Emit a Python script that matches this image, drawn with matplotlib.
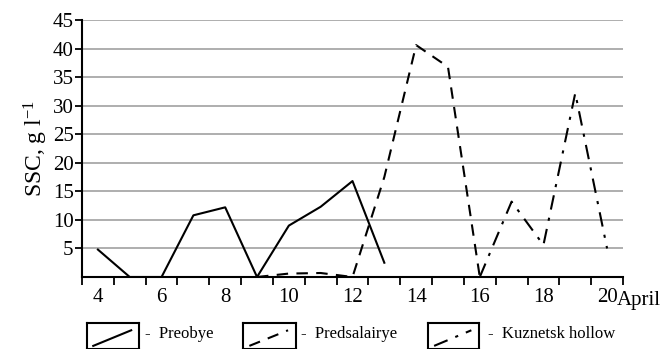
import numpy as np
import matplotlib.pyplot as plt

plt.rcParams['font.family'] = ['Liberation Serif', 'DejaVu Serif']
plt.rcParams['mathtext.fontset'] = 'custom'
plt.rcParams['mathtext.rm'] = 'Liberation Serif'
plt.rcParams['mathtext.it'] = 'Liberation Serif:italic'

# data (days of April, SSC g/l)
days_preobye = [4, 5, 6, 7, 8, 9, 10, 11, 12, 13]
ssc_preobye = [4.8, 0, 0, 10.8, 12.2, 0, 9.0, 12.3, 16.8, 2.5]

days_predsal = [9, 10, 11, 12, 13, 14, 15, 16]
ssc_predsal = [0, 0.6, 0.7, 0, 17.5, 40.6, 36.8, 0]

days_kuzn = [16, 17, 18, 19, 20]
ssc_kuzn = [0, 13.2, 5.6, 32.2, 5.0]

names = ['Preobye', 'Predsalairye', 'Kuznetsk hollow']
yticks = [5, 10, 15, 20, 25, 30, 35, 40, 45]
xlabels = [4, 6, 8, 10, 12, 14, 16, 18, 20]

W, H = 662, 349
fig = plt.figure(figsize=(W / 100, H / 100), dpi=100)
ax = fig.add_axes([82 / W, 1 - 277 / H, (623 - 82) / W, (277 - 20) / H])

dash = (0, (5.5, 4))
dashdot = (0, (7, 4, 1.5, 4))
ax.plot(days_preobye, ssc_preobye, color='black', lw=1.5, ls='-')
ax.plot(days_predsal, ssc_predsal, color='black', lw=1.5, ls=dash)
ax.plot(days_kuzn, ssc_kuzn, color='black', lw=1.5, ls=dashdot)

ax.set_xlim(3.5, 20.5)
ax.set_ylim(0, 45)
for y in yticks:
    ax.axhline(y, color='#a8a8a8', lw=1.3, zorder=0)

ax.spines['top'].set_visible(False)
ax.spines['right'].set_visible(False)
ax.spines['left'].set_linewidth(1.5)
ax.spines['bottom'].set_linewidth(1.5)

ax.set_yticks(yticks)
ax.tick_params(axis='y', direction='out', length=5, width=1.3, labelsize=15, pad=1)
ax.set_xticks(np.arange(3.5, 20.6, 1.0))
ax.set_xticklabels([])
ax.tick_params(axis='x', direction='out', length=6, width=1.3)
for d in xlabels:
    ax.text(d, -4.4, str(d), ha='center', va='baseline', fontsize=15)
ax.text(20.32, -4.95, 'April', ha='left', va='baseline', fontsize=15)

ax.set_ylabel('SSC, g l$^{\\mathregular{-1}}$', fontsize=17, labelpad=2)

# legend: framed boxes with a diagonal line sample
boxes = [(87, 139, '-', 145), (243, 296, dash, 301), (428, 479, dashdot, 488)]
for (x0, x1, style, tx), name in zip(boxes, names):
    bax = fig.add_axes([x0 / W, 1 - 349 / H, (x1 - x0) / W, (349 - 323) / H])
    bax.set_xlim(0, 1)
    bax.set_ylim(0, 1)
    bax.set_xticks([])
    bax.set_yticks([])
    for s in bax.spines.values():
        s.set_linewidth(1.5)
    bax.plot([0.12, 0.85], [0.12, 0.72], color='black', lw=1.5, ls=style)
    fig.text(tx / W, 1 - 334 / H, '-  ' + name, ha='left', va='center', fontsize=12)

fig.savefig('out.png', dpi=100)
